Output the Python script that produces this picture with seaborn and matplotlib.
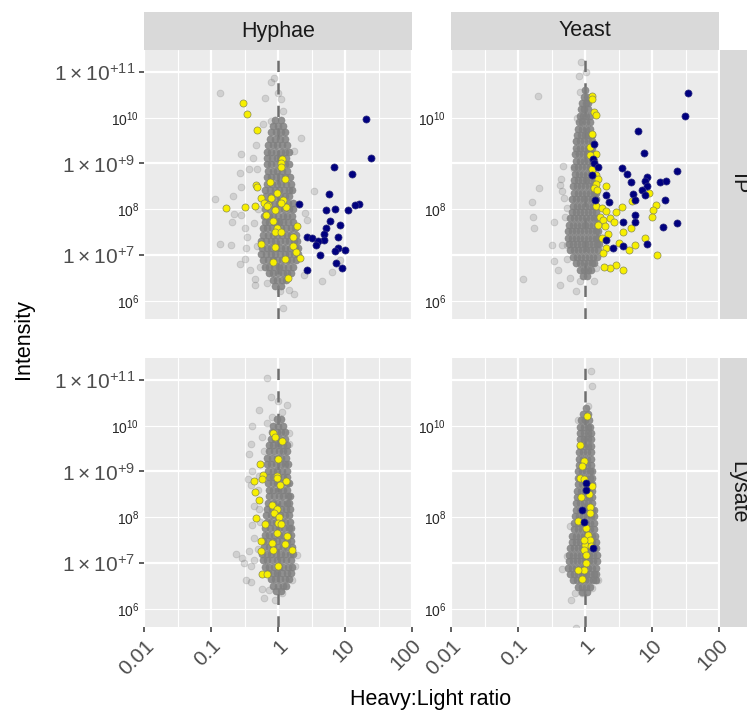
import pandas as pd
import seaborn as sns
import matplotlib.pyplot as plt
from matplotlib.patches import Rectangle

# all points are log10(ratio), log10(intensity)

x_ticks = [0.01, 0.1, 1, 10, 100]
x_tick_labels = ['0.01', '0.1', '1', '10', '100']
y_ticks = [1e7, 1e9, 1e11]
y_tick_labels = [r'$1\times10^{+7}$', r'$1\times10^{+9}$', r'$1\times10^{+11}$']
conditions = ['Hyphae', 'Yeast']
fractions = ['IP', 'Lysate']

hyphae_ip_yellow = [(-.52, 10.33), (-.47, 10.08), (-.31, 9.74), (.06, 9.10), (.04, 9.02), (.04, 8.93), (.11, 8.65),
                    (-.12, 8.59), (-.33, 8.52), (-.31, 8.49), (-.02, 8.35), (-.26, 8.24), (-.11, 8.24), (.07, 8.21),
                    (-.21, 8.14), (-.15, 8.09), (-.17, 8.07), (.12, 8.04), (.04, 8.14), (-.78, 8.02), (-.49, 8.04),
                    (-.34, 8.08), (-.05, 7.99), (-.18, 7.88), (-.07, 7.74), (.29, 7.63), (-.02, 7.59), (-.04, 7.51),
                    (.05, 7.51), (.22, 7.40), (-.25, 7.24), (-.05, 7.17), (.22, 7.19), (.27, 7.07), (.33, 6.93),
                    (.10, 6.92), (-.07, 6.85), (.15, 6.50)]
hyphae_ip_blue = [(1.32, 9.97), (1.39, 9.13), (.84, 8.93), (1.10, 8.76), (.76, 8.34), (.32, 8.12), (1.21, 8.12),
                  (1.15, 8.10), (1.05, 7.99), (.71, 7.99), (.85, 8.01), (.77, 7.74), (.92, 7.66), (.72, 7.59),
                  (.69, 7.46), (.44, 7.40), (.50, 7.37), (.90, 7.39), (.69, 7.33), (.59, 7.31), (.57, 7.21),
                  (.90, 7.15), (.85, 7.09), (1.0, 7.10), (.62, 7.0), (.86, 6.82), (.95, 6.72), (.44, 6.67)]
hyphae_ip_faint = [(-.06, 10.86), (-.10, 10.77), (-.87, 10.53), (0, 10.53), (-.2, 10.43), (.05, 10.40), (.08, 10.14),
                   (-.11, 9.93), (-.23, 9.87), (.35, 9.56), (-.33, 9.41), (-.55, 9.21), (-.38, 9.13), (.24, 9.28),
                   (-.43, 8.88), (-.57, 8.80), (-.32, 8.87), (-.55, 8.49), (-.67, 8.28), (-.94, 8.22), (.53, 8.39),
                   (-.66, 7.90), (-.55, 7.88), (-.68, 7.73), (-.87, 7.24), (-.70, 7.21), (-.50, 7.59), (-.47, 7.40),
                   (-.48, 7.15), (.40, 7.92), (.44, 7.77), (-.5, 6.91), (-.57, 6.81), (-.42, 6.67), (-.27, 6.74),
                   (-.35, 6.47), (-.35, 6.35), (-.16, 6.38), (.03, 6.21), (.16, 6.23), (.24, 6.14), (.07, 5.84),
                   (.66, 6.43), (.80, 6.63), (.93, 6.89), (.39, 6.56), (-.3, 8.0), (-.36, 7.7), (-.32, 7.2)]
hyphae_ip_core_y = [9.95, 9.82, 9.68, 9.54, 9.4, 9.26, 9.12, 8.98, 8.84, 8.7, 8.56, 8.42, 8.28, 8.14, 8.0, 7.86, 7.72,
                    7.58, 7.44, 7.3, 7.16, 7.02, 6.88, 6.74, 6.6, 6.46, 6.32]
hyphae_ip_core_x = [[-.04, .04], [-.08, 0, .07], [-.1, -.03, .04, .1], [-.12, -.05, .03, .1],
                    [-.15, -.08, -.01, .06, .13], [-.17, -.1, -.03, .04, .11, .16], [-.16, -.09, -.02, .05, .12],
                    [-.17, -.1, -.03, .04, .11, .17], [-.15, -.08, -.01, .06, .13], [-.17, -.1, -.03, .04, .11, .18],
                    [-.16, -.09, -.02, .05, .12, .19], [-.19, -.12, -.05, .02, .09, .16, .21],
                    [-.18, -.11, -.04, .03, .1, .17], [-.2, -.13, -.06, .01, .08, .15, .22],
                    [-.19, -.12, -.05, .02, .09, .16, .23], [-.21, -.14, -.07, 0, .07, .14, .21],
                    [-.2, -.13, -.06, .01, .08, .15, .23], [-.23, -.16, -.09, -.02, .05, .12, .19, .26],
                    [-.22, -.15, -.08, -.01, .06, .13, .2, .27], [-.25, -.18, -.11, -.04, .03, .1, .17, .24, .29],
                    [-.24, -.17, -.1, -.03, .04, .11, .18, .25, .3], [-.25, -.18, -.11, -.04, .03, .1, .17, .24, .3],
                    [-.22, -.15, -.08, -.01, .06, .13, .2, .27], [-.2, -.13, -.06, .01, .08, .15, .22],
                    [-.14, -.07, 0, .07, .14, .2], [-.08, -.01, .06, .12], [-.04, .04]]

yeast_ip_yellow = [(.10, 10.48), (.11, 10.40), (.13, 10.13), (.16, 10.07), (.10, 9.65), (.08, 9.35), (.17, 9.21),
                   (.07, 9.19), (.10, 8.88), (.16, 8.75), (.20, 8.65), (.17, 8.56), (.13, 8.47), (.18, 8.41),
                   (.31, 8.5), (.15, 8.21), (.17, 8.07), (.25, 8.03), (.32, 7.97), (.55, 8.05), (.47, 7.93),
                   (1.06, 8.10), (1.02, 7.99), (1.0, 7.82), (.22, 7.82), (.27, 7.77), (.37, 7.81), (.44, 7.72),
                   (.2, 7.65), (.3, 7.64), (.57, 7.51), (.69, 7.59), (.34, 7.46), (.25, 7.37), (.89, 7.38),
                   (.51, 7.27), (.75, 7.22), (.65, 7.11), (.32, 7.15), (.27, 7.05), (1.08, 7.0), (.46, 6.79),
                   (.37, 6.71), (.28, 6.73), (.57, 6.68), (.96, 8.36), (.70, 8.19)]
yeast_ip_blue = [(1.54, 10.55), (1.49, 10.04), (.79, 9.72), (.88, 9.22), (.14, 9.43), (.12, 9.10), (.13, 9.02),
                 (.20, 8.93), (.11, 8.74), (.55, 8.91), (.62, 8.78), (1.38, 8.84), (.92, 8.71), (.89, 8.62),
                 (.69, 8.60), (1.12, 8.60), (1.21, 8.61), (.93, 8.51), (.85, 8.42), (.9, 8.32), (.71, 8.34),
                 (.75, 8.21), (.31, 8.30), (.36, 8.16), (.15, 8.2), (1.19, 8.21), (.74, 7.87), (.75, 7.73),
                 (.56, 7.72), (1.17, 7.61), (1.37, 7.69), (.31, 7.33), (.92, 7.24), (.42, 7.15), (.57, 7.19)]
yeast_ip_faint = [(-.06, 11.21), (-.09, 10.91), (.02, 10.99), (-.70, 10.47), (-.07, 10.57), (-.33, 8.95), (-.36, 8.65),
                  (-.37, 8.54), (-.69, 8.46), (-.35, 8.4), (-.32, 8.25), (-.79, 8.16), (-.78, 7.82), (-.76, 7.59),
                  (-.47, 7.72), (-.30, 7.82), (-.27, 8.03), (-.50, 7.22), (-.35, 7.22), (-.27, 7.22), (-.46, 6.87),
                  (-.41, 6.67), (-.27, 6.91), (-.93, 6.48), (-.37, 6.35), (-.22, 6.5), (-.13, 6.21), (-.08, 6.44),
                  (.14, 6.44), (.17, 6.71), (-.13, 9.5), (-.12, 10.0), (-.12, 9.28), (-.17, 8.88)]
yeast_ip_core_y = [10.6, 10.46, 10.32, 10.18, 10.04, 9.9, 9.76, 9.62, 9.48, 9.34, 9.2, 9.06, 8.92, 8.78, 8.64, 8.5,
                   8.36, 8.22, 8.08, 7.94, 7.8, 7.66, 7.52, 7.38, 7.24, 7.1, 6.96, 6.82, 6.68, 6.54]
yeast_ip_core_x = [[0], [-.02, .03], [-.04, .01, .05], [-.06, -.01, .05], [-.08, -.03, .02, .07], [-.09, -.04, .02, .07],
                   [-.1, -.05, .01, .07], [-.12, -.06, 0, .06, .1], [-.13, -.07, -.01, .05, .1],
                   [-.13, -.07, -.01, .05, .11], [-.15, -.09, -.03, .03, .09, .12], [-.14, -.08, -.02, .04, .1, .13],
                   [-.16, -.1, -.04, .02, .08, .14], [-.15, -.09, -.03, .03, .09, .14],
                   [-.17, -.11, -.05, .01, .07, .13], [-.18, -.12, -.06, 0, .06, .12, .15],
                   [-.17, -.11, -.05, .01, .07, .13, .16], [-.19, -.13, -.07, -.01, .05, .11, .16],
                   [-.18, -.12, -.06, 0, .06, .12, .17], [-.2, -.14, -.08, -.02, .04, .1, .16],
                   [-.22, -.16, -.1, -.04, .02, .08, .14, .18], [-.24, -.18, -.12, -.06, 0, .06, .12, .18],
                   [-.25, -.19, -.13, -.07, -.01, .05, .11, .17, .19], [-.25, -.19, -.13, -.07, -.01, .05, .11, .17, .2],
                   [-.24, -.18, -.12, -.06, 0, .06, .12, .18, .21], [-.22, -.16, -.1, -.04, .02, .08, .14, .2],
                   [-.18, -.12, -.06, 0, .06, .12, .18], [-.14, -.08, -.02, .04, .1, .14], [-.08, -.02, .04, .09],
                   [-.03, .03]]

hyphae_lysate_yellow = [(-.07, 9.84), (-.05, 9.75), (.06, 9.67), (0, 9.27), (-.27, 9.16), (-.22, 8.93), (-.24, 8.84),
                        (-.36, 8.8), (-.01, 8.89), (-.02, 8.85), (.12, 8.79), (.03, 8.71), (-.35, 8.54), (-.28, 8.38),
                        (-.09, 8.26), (-.01, 8.17), (-.06, 8.10), (.02, 8.01), (-.33, 7.98), (-.19, 7.86), (0, 7.87),
                        (.05, 7.85), (-.01, 7.65), (.14, 7.6), (-.26, 7.47), (-.09, 7.44), (.10, 7.41), (-.25, 7.27),
                        (-.07, 7.29), (.21, 7.29), (0, 6.94), (-.24, 6.75), (-.16, 6.76)]
hyphae_lysate_blue = []
hyphae_lysate_faint = [(-.17, 11.04), (-.10, 10.63), (0, 10.53), (.14, 10.46), (-.29, 10.34), (-.39, 10.0), (-.16, 10.07),
                       (-.24, 9.75), (-.40, 9.6), (-.44, 9.39), (-.21, 9.44), (-.39, 9.0), (-.45, 8.84), (-.41, 8.71),
                       (-.36, 8.25), (-.29, 8.18), (-.39, 7.83), (-.36, 7.54), (-.62, 7.19), (-.53, 7.11), (-.51, 6.99),
                       (-.44, 7.26), (-.36, 7.07), (-.41, 6.93), (-.48, 6.63), (-.40, 6.59), (-.24, 6.43), (-.14, 6.41),
                       (-.21, 6.23), (-.04, 6.18), (.06, 6.34), (.21, 6.63), (.26, 6.93), (.28, 7.18), (-.09, 10.2),
                       (.06, 10.31), (.16, 9.83), (.17, 9.61), (-.3, 8.6), (-.28, 8.9), (-.27, 7.9), (-.3, 7.3)]
hyphae_lysate_core_y = [10.15, 10.0, 9.86, 9.72, 9.58, 9.44, 9.3, 9.16, 9.02, 8.88, 8.74, 8.6, 8.46, 8.32, 8.18, 8.04,
                        7.9, 7.76, 7.62, 7.48, 7.34, 7.2, 7.06, 6.92, 6.78, 6.64, 6.5, 6.38]
hyphae_lysate_core_x = [[-.02, .04], [-.07, 0, .07], [-.09, -.02, .05, .11], [-.11, -.04, .03, .1],
                        [-.14, -.07, 0, .07, .13], [-.13, -.06, .01, .08, .14], [-.16, -.09, -.02, .05, .12],
                        [-.17, -.1, -.03, .04, .11, .15], [-.15, -.08, -.01, .06, .13], [-.14, -.07, 0, .07, .14],
                        [-.15, -.08, -.01, .06, .13, .17], [-.14, -.07, 0, .07, .14], [-.13, -.06, .01, .08, .15, .18],
                        [-.15, -.08, -.01, .06, .13, .17], [-.16, -.09, -.02, .05, .12, .18],
                        [-.18, -.11, -.04, .03, .1, .17], [-.17, -.1, -.03, .04, .11, .18],
                        [-.19, -.12, -.05, .02, .09, .16, .2], [-.2, -.13, -.06, .01, .08, .15, .2],
                        [-.22, -.15, -.08, -.01, .06, .13, .2], [-.21, -.14, -.07, 0, .07, .14, .21],
                        [-.24, -.17, -.1, -.03, .04, .11, .18, .22], [-.23, -.16, -.09, -.02, .05, .12, .19],
                        [-.2, -.13, -.06, .01, .08, .15, .21], [-.15, -.08, -.01, .06, .13, .19],
                        [-.11, -.04, .03, .1, .16], [-.07, 0, .07, .12], [-.03, .05]]

yeast_lysate_yellow = [(.03, 10.22), (-.08, 9.57), (-.02, 9.22), (-.05, 9.13), (-.08, 8.85), (-.01, 8.84), (.10, 8.68),
                       (.06, 8.51), (-.06, 8.44), (.08, 8.23), (.07, 8.1), (-.10, 7.91), (.01, 7.76), (.05, 7.62),
                       (.07, 7.51), (0, 7.4), (-.02, 7.29), (.02, 7.18), (.02, 7.0), (-.02, 6.85), (-.11, 6.85),
                       (-.04, 6.65), (.09, 7.38), (-.01, 7.51)]
yeast_lysate_blue = [(.02, 8.74), (.02, 8.59), (-.04, 8.15), (-.01, 7.9), (.12, 7.32)]
yeast_lysate_faint = [(.09, 11.19), (.10, 10.86), (.05, 10.42), (-.22, 7.81), (-.35, 6.87), (-.27, 7.15), (-.13, 5.57),
                      (-.21, 6.18), (-.15, 6.34), (.15, 6.63), (.2, 6.63), (-.05, 6.34), (.10, 6.45), (-.10, 10.12)]
yeast_lysate_core_y = [10.38, 10.26, 10.12, 9.98, 9.84, 9.7, 9.56, 9.42, 9.28, 9.14, 9.0, 8.86, 8.72, 8.58, 8.44, 8.3,
                       8.16, 8.02, 7.88, 7.74, 7.6, 7.46, 7.32, 7.18, 7.04, 6.9, 6.76, 6.62, 6.48, 6.36]
yeast_lysate_core_x = [[.02], [-.03, .04], [-.06, 0, .06], [-.07, -.01, .05, .08], [-.07, -.01, .05, .09],
                       [-.08, -.02, .04, .09], [-.07, -.01, .05, .09], [-.09, -.03, .03, .09], [-.09, -.03, .03, .09],
                       [-.09, -.03, .03, .09], [-.11, -.05, .01, .07, .1], [-.1, -.04, .02, .08, .11],
                       [-.11, -.05, .01, .07, .11], [-.12, -.06, 0, .06, .11], [-.12, -.06, 0, .06, .11],
                       [-.13, -.07, -.01, .05, .11], [-.14, -.08, -.02, .04, .1, .13], [-.15, -.09, -.03, .03, .09, .13],
                       [-.16, -.1, -.04, .02, .08, .13], [-.17, -.11, -.05, .01, .07, .13],
                       [-.19, -.13, -.07, -.01, .05, .11, .15], [-.2, -.14, -.08, -.02, .04, .1, .16],
                       [-.22, -.16, -.1, -.04, .02, .08, .14, .17], [-.24, -.18, -.12, -.06, 0, .06, .12, .18],
                       [-.24, -.18, -.12, -.06, 0, .06, .12, .18], [-.25, -.19, -.13, -.07, -.01, .05, .11, .17],
                       [-.22, -.16, -.1, -.04, .02, .08, .14, .17], [-.18, -.12, -.06, 0, .06, .12, .16],
                       [-.1, -.04, .02, .08], [-.04, .03]]

panels = {
    ('Hyphae', 'IP'): (hyphae_ip_faint, hyphae_ip_core_x, hyphae_ip_core_y, hyphae_ip_yellow, hyphae_ip_blue),
    ('Yeast', 'IP'): (yeast_ip_faint, yeast_ip_core_x, yeast_ip_core_y, yeast_ip_yellow, yeast_ip_blue),
    ('Hyphae', 'Lysate'): (hyphae_lysate_faint, hyphae_lysate_core_x, hyphae_lysate_core_y,
                           hyphae_lysate_yellow, hyphae_lysate_blue),
    ('Yeast', 'Lysate'): (yeast_lysate_faint, yeast_lysate_core_x, yeast_lysate_core_y,
                          yeast_lysate_yellow, yeast_lysate_blue),
}


def to_frame(points: list) -> pd.DataFrame:
    df = pd.DataFrame(points, columns=['ratio', 'intensity'])
    return 10.0 ** df


def core_frame(core_x: list, core_y: list) -> pd.DataFrame:
    points = [(x, y) for xs, y in zip(core_x, core_y) for x in xs]
    return to_frame(points)


sns.set_style('darkgrid', {'axes.facecolor': '#EBEBEB'})
plt.rcParams['font.family'] = ['Liberation Sans', 'DejaVu Sans']
plt.rcParams['mathtext.fontset'] = 'custom'
plt.rcParams['mathtext.rm'] = 'Liberation Sans'
plt.rcParams['mathtext.default'] = 'regular'

W, H = 747, 713
fig = plt.figure(figsize=(W / 100, H / 100), dpi=100)
panel_left = {'Hyphae': (144, 412), 'Yeast': (451, 719)}
panel_top = {'IP': (50, 319), 'Lysate': (358, 627)}
tick_color = '#4D4D4D'
title_size = 15.5
tick_size = 15

for (condition, fraction), (faint, core_x, core_y, yellow, blue) in panels.items():
    x0, x1 = panel_left[condition]
    y0, y1 = panel_top[fraction]
    ax = fig.add_axes([x0 / W, 1 - y1 / H, (x1 - x0) / W, (y1 - y0) / H])
    ax.set_xscale('log')
    ax.set_yscale('log')
    ax.set_xlim(0.01, 100)
    ax.set_ylim(10 ** 5.6, 10 ** 11.48)

    ax.set_xticks(x_ticks)
    ax.set_xticks([10 ** -1.5, 10 ** -0.5, 10 ** 0.5, 10 ** 1.5], minor=True)
    ax.set_yticks(y_ticks)
    ax.set_yticks([1e6, 1e8, 1e10], minor=True)
    ax.tick_params(which='minor', length=0)
    ax.grid(which='major', color='white', linewidth=1.6)
    ax.grid(which='minor', color='white', linewidth=0.8)
    ax.set_axisbelow(True)
    for spine in ax.spines.values():
        spine.set_visible(False)

    ax.axvline(1, color='#6E6E6E', linewidth=1.8, linestyle=(0, (4.5, 4.5)), zorder=1)

    sns.scatterplot(data=to_frame(faint), x='ratio', y='intensity', ax=ax, s=24, color='#808080',
                    alpha=0.25, edgecolor='#707070', linewidth=0.6, zorder=2)
    sns.scatterplot(data=core_frame(core_x, core_y), x='ratio', y='intensity', ax=ax, s=26, color='#808080',
                    alpha=0.85, edgecolor='#808080', linewidth=0.4, zorder=3)
    sns.scatterplot(data=to_frame(yellow), x='ratio', y='intensity', ax=ax, s=26, color='#F7EF00',
                    edgecolor='#8A8A50', linewidth=0.5, zorder=4)
    if blue:
        sns.scatterplot(data=to_frame(blue), x='ratio', y='intensity', ax=ax, s=26, color='#00007F',
                        edgecolor='#30307F', linewidth=0.5, zorder=5)

    ax.set_xlabel('')
    ax.set_ylabel('')
    if fraction == 'Lysate':
        ax.set_xticklabels(x_tick_labels, rotation=45, ha='right', rotation_mode='anchor',
                           fontsize=tick_size, color=tick_color)
        ax.tick_params(axis='x', which='major', bottom=True, length=3.5, width=1.1, color='#333333', pad=3)
    else:
        ax.tick_params(axis='x', which='major', labelbottom=False, bottom=False)
    if condition == 'Hyphae':
        ax.set_yticklabels(y_tick_labels, fontsize=tick_size, color=tick_color)
        ax.tick_params(axis='y', which='major', left=True, length=3.5, width=1.1, color='#333333', pad=3)
    else:
        ax.tick_params(axis='y', which='major', labelleft=False, left=False)

for condition in conditions:
    x0, x1 = panel_left[condition]
    fig.add_artist(Rectangle((x0 / W, 1 - 50 / H), (x1 - x0) / W, 38 / H, transform=fig.transFigure,
                             facecolor='#D9D9D9', edgecolor='none'))
    fig.text((x0 + x1) / 2 / W, 1 - 31 / H, condition, ha='center', va='center', fontsize=title_size, color='#1A1A1A')

for fraction in fractions:
    y0, y1 = panel_top[fraction]
    fig.add_artist(Rectangle((720 / W, 1 - y1 / H), 27 / W, (y1 - y0) / H, transform=fig.transFigure,
                             facecolor='#D9D9D9', edgecolor='none'))
    fig.text(738 / W, 1 - (y0 + y1) / 2 / H, fraction, ha='center', va='center', rotation=-90,
             fontsize=title_size, color='#1A1A1A')

fig.text(431 / W, 1 - 699 / H, 'Heavy:Light ratio', ha='center', va='center', fontsize=title_size, color='black')
fig.text(23 / W, 1 - 339 / H, 'Intensity', ha='center', va='center', rotation=90, fontsize=title_size, color='black')

fig.savefig('out.png', dpi=100)
